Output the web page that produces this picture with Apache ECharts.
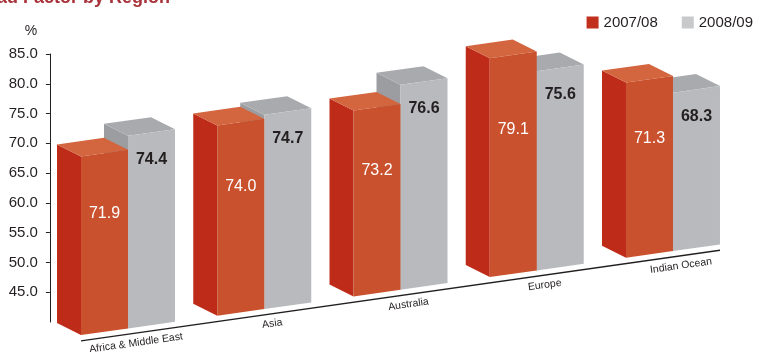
<!DOCTYPE html>
<html><head><meta charset="utf-8">
<script src="https://cdn.jsdelivr.net/npm/echarts@6/dist/echarts.min.js"></script>
<style>html,body{margin:0;padding:0;background:#fff}#c{width:761px;height:352px}</style>
</head><body><div id="c"></div>
<script>
const titleText = 'Load Factor by Region';
const categories = ['Africa & Middle East', 'Asia', 'Australia', 'Europe', 'Indian Ocean'];
const seriesNames = ['2007/08', '2008/09'];
const values0708 = [71.9, 74.0, 73.2, 79.1, 71.3];
const values0809 = [74.4, 74.7, 76.6, 75.6, 68.3];
const yTickValues = [45, 50, 55, 60, 65, 70, 75, 80, 85];
const yMin = 40, yMax = 85, yStep = 5;

const FONT = '"Liberation Sans", Arial, Helvetica, sans-serif';
const C = {
  redFront: '#c9512d', redSide: '#bf2b19', redTop: '#d3653f', redLegend: '#c1301c',
  grayFront: '#b9babd', grayTop: '#a9aaae', graySide: '#9c9da1', grayLegend: '#c8c9cb',
  ink: '#231f20', title: '#a8323a'
};
const SLOPE = -0.1418;     // floor slope (px per px)
const FLOOR_OFF = 6.4;     // floor offset below the axis minimum at first category
const DEPTH = [-24, -12];  // oblique depth vector
const K = 0.94;            // perspective scale of bar heights
const BAR_FRAC = 0.345;
const LINE_OFF = 5.8;

function floorY(api, x) {
  const p0 = api.coord([0, yMin]);
  return p0[1] + FLOOR_OFF + SLOPE * (x - p0[0]);
}

function makeRender(s) {
  return function (params, api) {
    const i = api.value(0), v = api.value(1);
    const c = api.coord([i, v]);
    const base = api.coord([i, yMin]);
    const h = K * (base[1] - c[1]);
    const bw = api.size([1, 0])[0] * BAR_FRAC;
    const xL = s === 0 ? c[0] - bw : c[0];
    const xR = xL + bw;
    const bL = floorY(api, xL), bR = floorY(api, xR);
    const tL = bL - h, tR = bR - h;
    const dx = DEPTH[0], dy = DEPTH[1];
    const col = s === 0 ? [C.redSide, C.redTop, C.redFront] : [C.graySide, C.grayTop, C.grayFront];
    const tMid = (tL + tR) / 2;
    const label = s === 0
      ? { text: v.toFixed(1), fill: '#ffffff', fontWeight: 'normal', y: tMid + 0.34 * h }
      : { text: v.toFixed(1), fill: C.ink, fontWeight: 'bold', y: tMid + 27 };
    return {
      type: 'group',
      children: [
        { type: 'polygon', shape: { points: [[xL, bL], [xL, tL], [xL + dx, tL + dy], [xL + dx, bL + dy]] }, style: { fill: col[0] } },
        { type: 'polygon', shape: { points: [[xL, tL], [xR, tR], [xR + dx, tR + dy], [xL + dx, tL + dy]] }, style: { fill: col[1] } },
        { type: 'polygon', shape: { points: [[xL, bL], [xR, bR], [xR, tR], [xL, tL]] }, style: { fill: col[2] } },
        { type: 'text', style: { text: label.text, x: (xL + xR) / 2, y: label.y, align: 'center', verticalAlign: 'middle',
            fill: label.fill, fontSize: 16, fontWeight: label.fontWeight, fontFamily: FONT } }
      ]
    };
  };
}

function renderAxis(params, api) {
  const i = api.value(0);
  const c = api.coord([i, yMin]);
  const bw = api.size([1, 0])[0] * BAR_FRAC;
  const children = [];
  if (params.dataIndex === 0) {
    const x1 = c[0] - bw;
    const x2 = api.coord([categories.length - 1, yMin])[0] + bw;
    children.push({ type: 'line', shape: { x1: x1, y1: floorY(api, x1) + LINE_OFF, x2: x2, y2: floorY(api, x2) + LINE_OFF },
      style: { stroke: C.ink, lineWidth: 1.3 } });
  }
  const lx = c[0] + 8;
  children.push({ type: 'text', x: lx, y: floorY(api, lx) + LINE_OFF + 10, rotation: Math.atan(-SLOPE),
    style: { text: categories[i], align: 'center', verticalAlign: 'middle', fill: C.ink, fontSize: 10.5, fontFamily: FONT } });
  return { type: 'group', children: children };
}

const chart = echarts.init(document.getElementById('c'), null, { renderer: 'canvas' });
chart.setOption({
  animation: false,
  backgroundColor: '#ffffff',
  textStyle: { fontFamily: FONT },
  graphic: [{
    type: 'text', left: -25, top: -11,
    style: { text: titleText, fill: C.title, fontSize: 18, fontWeight: 'bold', fontFamily: FONT }
  }],
  legend: {
    data: seriesNames, orient: 'horizontal', right: 3, top: 10, itemWidth: 12, itemHeight: 12, itemGap: 24, icon: 'rect',
    textStyle: { fontSize: 15, color: C.ink, fontFamily: FONT }, selectedMode: false
  },
  grid: { left: 59.9, right: 19.9, top: 54, bottom: 30 },
  xAxis: { type: 'category', data: categories, show: false },
  yAxis: {
    type: 'value', min: yMin, max: yMax, interval: yStep, offset: 10,
    name: '%', nameLocation: 'end', nameGap: 16,
    nameTextStyle: { fontSize: 14, color: C.ink, fontFamily: FONT, padding: [0, 38, 0, 0] },
    axisLine: { show: true, lineStyle: { color: C.ink, width: 1 } },
    axisTick: { show: true, inside: false, length: 4, lineStyle: { color: C.ink }, customValues: yTickValues },
    axisLabel: { margin: 12, fontSize: 15, color: C.ink, fontFamily: FONT, customValues: yTickValues,
      formatter: function (v) { return Number(v).toFixed(1); } },
    splitLine: { show: false }
  },
  series: [
    { name: seriesNames[0], type: 'custom', z: 3, clip: false, silent: true, itemStyle: { color: C.redLegend },
      renderItem: makeRender(0), data: values0708.map(function (v, i) { return [i, v]; }) },
    { name: seriesNames[1], type: 'custom', z: 2, clip: false, silent: true, itemStyle: { color: C.grayLegend },
      renderItem: makeRender(1), data: values0809.map(function (v, i) { return [i, v]; }) },
    { name: 'axis', type: 'custom', z: 1, clip: false, silent: true,
      renderItem: renderAxis, data: categories.map(function (c, i) { return [i, yMin]; }) }
  ]
});
</script>
</body></html>
